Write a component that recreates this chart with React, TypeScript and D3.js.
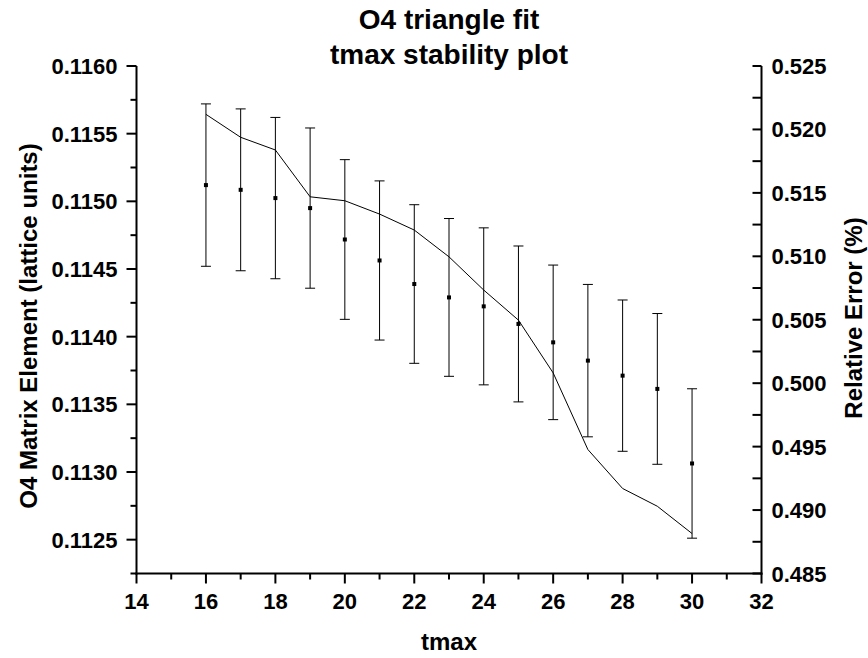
import React from "react";
import * as d3 from "d3";

const tmax = [16, 17, 18, 19, 20, 21, 22, 23, 24, 25, 26, 27, 28, 29, 30];
const matrixElement = [0.11512, 0.115085, 0.115024, 0.11495, 0.114718, 0.114563, 0.114389, 0.11429, 0.114224, 0.114094, 0.113958, 0.113823, 0.113712, 0.113614, 0.113063];
const matrixError = [0.0006, 0.000598, 0.000596, 0.000592, 0.00059, 0.000588, 0.000586, 0.000583, 0.00058, 0.000576, 0.000571, 0.000563, 0.000559, 0.000557, 0.000552];
const relativeError = [0.52119, 0.51938, 0.51838, 0.51469, 0.51438, 0.51333, 0.51207, 0.50996, 0.50734, 0.50497, 0.50081, 0.49477, 0.4917, 0.4903, 0.48815];

const xTicks = [14, 16, 18, 20, 22, 24, 26, 28, 30, 32];
const xMinor = [15, 17, 19, 21, 23, 25, 27, 29, 31];
const leftTicks = [0.1125, 0.113, 0.1135, 0.114, 0.1145, 0.115, 0.1155, 0.116];
const leftMinor = [0.11225, 0.11275, 0.11325, 0.11375, 0.11425, 0.11475, 0.11525, 0.11575];
const rightTicks = [0.485, 0.49, 0.495, 0.5, 0.505, 0.51, 0.515, 0.52, 0.525];
const rightMinor = [0.4875, 0.4925, 0.4975, 0.5025, 0.5075, 0.5125, 0.5175, 0.5225];

const W = 868, H = 658;
const L = 136.5, R = 761.5, T = 66, B = 573.5;
const FONT = "'Liberation Sans', Arial, sans-serif";

export default function App() {
  const x = d3.scaleLinear().domain([14, 32]).range([L, R]);
  const yL = d3.scaleLinear().domain([0.11225, 0.116]).range([B, T]);
  const yR = d3.scaleLinear().domain([0.485, 0.525]).range([B, T]);
  const line = d3.line<number>().x((_, i) => x(tmax[i])).y((d) => yR(d));
  const cap = 5;
  return (
    <svg width={W} height={H} style={{ position: "absolute", left: 0, top: 0, display: "block", background: "#fff" }} fontFamily={FONT} fontWeight="bold">
      <rect width={W} height={H} fill="#fff" />
      <text x={(L + R) / 2} y={29} textAnchor="middle" fontSize={28}>O4 triangle fit</text>
      <text x={(L + R) / 2} y={64} textAnchor="middle" fontSize={28}>tmax stability plot</text>

      <g stroke="#000" strokeWidth={2} fill="none">
        <line x1={L} y1={T} x2={L} y2={B + 1} />
        <line x1={R} y1={T} x2={R} y2={B + 1} />
        <line x1={L - 1} y1={B} x2={R + 1} y2={B} />
      </g>
      <g stroke="#000" strokeWidth={2}>
        {xTicks.map((t) => <line key={"xt" + t} x1={x(t)} x2={x(t)} y1={B} y2={B + 10} />)}
        {xMinor.map((t) => <line key={"xm" + t} x1={x(t)} x2={x(t)} y1={B} y2={B + 6} />)}
        {leftTicks.map((t) => <line key={"lt" + t} x1={L - 10} x2={L} y1={yL(t)} y2={yL(t)} />)}
        {leftMinor.map((t) => <line key={"lm" + t} x1={L - 6} x2={L} y1={yL(t)} y2={yL(t)} />)}
        {rightTicks.map((t) => <line key={"rt" + t} x1={R - 9} x2={R} y1={yR(t)} y2={yR(t)} />)}
        {rightMinor.map((t) => <line key={"rm" + t} x1={R - 9} x2={R} y1={yR(t)} y2={yR(t)} />)}
      </g>
      <g fontSize={22}>
        {xTicks.map((t) => <text key={"xl" + t} x={x(t)} y={B + 35} textAnchor="middle">{t}</text>)}
        {leftTicks.map((t) => <text key={"ll" + t} x={L - 19} y={yL(t) + 8} textAnchor="end">{t.toFixed(4)}</text>)}
        {rightTicks.map((t) => <text key={"rl" + t} x={R + 10} y={yR(t) + 8} textAnchor="start">{t.toFixed(3)}</text>)}
      </g>
      <text x={(L + R) / 2} y={650} textAnchor="middle" fontSize={24}>tmax</text>
      <text transform={`translate(37,326) rotate(-90)`} textAnchor="middle" fontSize={24}>O4 Matrix Element (lattice units)</text>
      <text transform={`translate(862,318) rotate(-90)`} textAnchor="middle" fontSize={24}>Relative Error (%)</text>

      <g stroke="#000" strokeWidth={1} fill="none">
        {tmax.map((t, i) => {
          const cx = x(t);
          const y1 = yL(matrixElement[i] + matrixError[i]);
          const y2 = yL(matrixElement[i] - matrixError[i]);
          return (
            <g key={"eb" + t}>
              <line x1={cx} x2={cx} y1={y1} y2={y2} />
              <line x1={cx - cap} x2={cx + cap} y1={y1} y2={y1} />
              <line x1={cx - cap} x2={cx + cap} y1={y2} y2={y2} />
            </g>
          );
        })}
      </g>
      {tmax.map((t, i) => (
        <rect key={"pt" + t} x={x(t) - 2} y={yL(matrixElement[i]) - 2} width={4} height={4} fill="#000" />
      ))}
      <path d={line(relativeError) || ""} fill="none" stroke="#000" strokeWidth={1} />
    </svg>
  );
}
